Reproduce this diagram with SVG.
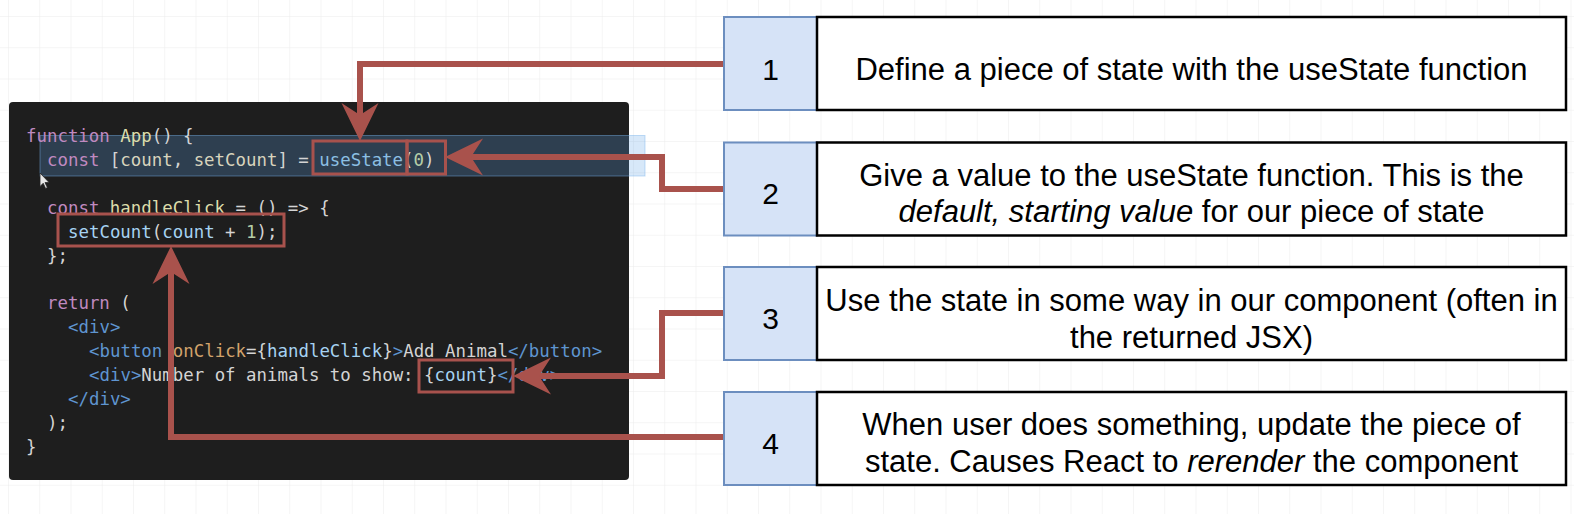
<svg xmlns="http://www.w3.org/2000/svg" width="1574" height="514" viewBox="0 0 1574 514">
<style>
.code{font-family:"DejaVu Sans Mono","Liberation Mono",monospace;font-size:17.4px;fill:#d4d4d4}
.kw{fill:#c08ac0}.fn{fill:#dcdcaa}.var{fill:#d8d4bd}.call{fill:#8cbfe3}.num{fill:#b5cea8}
.tag{fill:#5f95d0}.attr{fill:#d2a36c}.lb{fill:#a6d3f2}.wt{fill:#d4d4d4}
.hl{fill:none;stroke:#a8524d;stroke-width:3}
.conn{fill:none;stroke:#a9524c;stroke-width:6}
.nbox{fill:#d6e3f7;stroke:#6c8ebf;stroke-width:2}
.tbox{fill:#ffffff;stroke:#000000;stroke-width:2.5}
.num-t{font-family:"Liberation Sans",Arial,sans-serif;font-size:30px;fill:#000;text-anchor:middle}
.desc{font-family:"Liberation Sans",Arial,sans-serif;font-size:31px;fill:#000;text-anchor:middle}
.it{font-style:italic}
</style>
<defs>
<pattern id="grid" x="8" y="16" width="31.25" height="31.25" patternUnits="userSpaceOnUse">
<path d="M0 0H31.25M0 0V31.25" fill="none" stroke="#ebebeb" stroke-width="1"/>
</pattern>
<marker id="ah" markerUnits="userSpaceOnUse" markerWidth="40" markerHeight="40" viewBox="0 -20 40 40" refX="12" refY="0" orient="auto" overflow="visible">
<path d="M0,-18.5 L38,0 L0,18.5 L12,0 Z" fill="#a9524c"/>
</marker>
</defs>
<rect width="1574" height="514" fill="#ffffff"/>
<rect width="1574" height="514" fill="url(#grid)"/>

<g id="code-panel">
<rect x="9" y="102" width="620" height="378" rx="4" fill="#1e1e1e"/>
<rect x="40" y="135.5" width="605" height="40.5" fill="rgba(95,165,230,0.25)" stroke="rgba(120,180,235,0.45)" stroke-width="1"/>
<g class="code" xml:space="preserve">
<text x="26" y="142"><tspan class="kw">function</tspan> <tspan class="fn">App</tspan>() {</text>
<text x="47" y="166"><tspan class="kw">const</tspan> [<tspan class="var">count</tspan>, <tspan class="var">setCount</tspan>] = <tspan class="call">useState</tspan>(<tspan class="num">0</tspan>)</text>
<text x="47" y="213.5"><tspan class="kw">const</tspan> <tspan class="fn">handleClick</tspan> = () =&gt; {</text>
<text x="68" y="237.5"><tspan class="lb">setCount</tspan>(<tspan class="lb">count</tspan> + <tspan class="num">1</tspan>);</text>
<text x="47" y="261.5">};</text>
<text x="47" y="309"><tspan class="kw">return</tspan> (</text>
<text x="68" y="333"><tspan class="tag">&lt;div&gt;</tspan></text>
<text x="89" y="357"><tspan class="tag">&lt;button</tspan> <tspan class="attr">onClick</tspan>={<tspan class="lb">handleClick</tspan>}<tspan class="tag">&gt;</tspan>Add Animal<tspan class="tag">&lt;/button&gt;</tspan></text>
<text x="89" y="381"><tspan class="tag">&lt;div&gt;</tspan>Number of animals to show: {<tspan class="lb">count</tspan>}<tspan class="tag">&lt;/div&gt;</tspan></text>
<text x="68" y="405"><tspan class="tag">&lt;/div&gt;</tspan></text>
<text x="47" y="429">);</text>
<text x="26" y="453">}</text>
</g>
<path d="M40,173 L40,186.5 L43.2,183.3 L45.6,188.5 L47.4,187.6 L45,182.6 L49.2,182.6 Z" fill="#e8e8e8" stroke="#222" stroke-width="0.8"/>
<rect class="hl" x="313" y="141" width="94" height="33"/>
<rect class="hl" x="407" y="141" width="38.5" height="33"/>
<rect class="hl" x="58" y="214" width="226" height="32"/>
<rect class="hl" x="419" y="360" width="94" height="32"/>
</g>

<g id="connectors">
<path class="conn" d="M724,64 H360 V115" marker-end="url(#ah)"/>
<path class="conn" d="M724,189 H662 V157 H471" marker-end="url(#ah)"/>
<path class="conn" d="M724,313 H662 V376 H539" marker-end="url(#ah)"/>
<path class="conn" d="M724,437 H171 V272" marker-end="url(#ah)"/>
</g>

<g id="step1">
<rect class="nbox" x="724" y="17" width="93" height="93"/>
<rect class="tbox" x="817" y="17" width="749" height="93"/>
<text class="num-t" x="770.5" y="80">1</text>
<text class="desc" x="1191.5" y="80">Define a piece of state with the useState function</text>
</g>
<g id="step2">
<rect class="nbox" x="724" y="142.5" width="93" height="93"/>
<rect class="tbox" x="817" y="142.5" width="749" height="93"/>
<text class="num-t" x="770.5" y="203.5">2</text>
<text class="desc" x="1191.5" y="185.5">Give a value to the useState function. This is the</text>
<text class="desc" x="1191.5" y="221.5"><tspan class="it">default, starting value</tspan> for our piece of state</text>
</g>
<g id="step3">
<rect class="nbox" x="724" y="267" width="93" height="93"/>
<rect class="tbox" x="817" y="267" width="749" height="93"/>
<text class="num-t" x="770.5" y="329">3</text>
<text class="desc" x="1191.5" y="311">Use the state in some way in our component (often in</text>
<text class="desc" x="1191.5" y="347.5">the returned JSX)</text>
</g>
<g id="step4">
<rect class="nbox" x="724" y="392" width="93" height="93"/>
<rect class="tbox" x="817" y="392" width="749" height="93"/>
<text class="num-t" x="770.5" y="453.5">4</text>
<text class="desc" x="1191.5" y="435">When user does something, update the piece of</text>
<text class="desc" x="1191.5" y="471.5">state. Causes React to <tspan class="it">rerender</tspan> the component</text>
</g>
</svg>
